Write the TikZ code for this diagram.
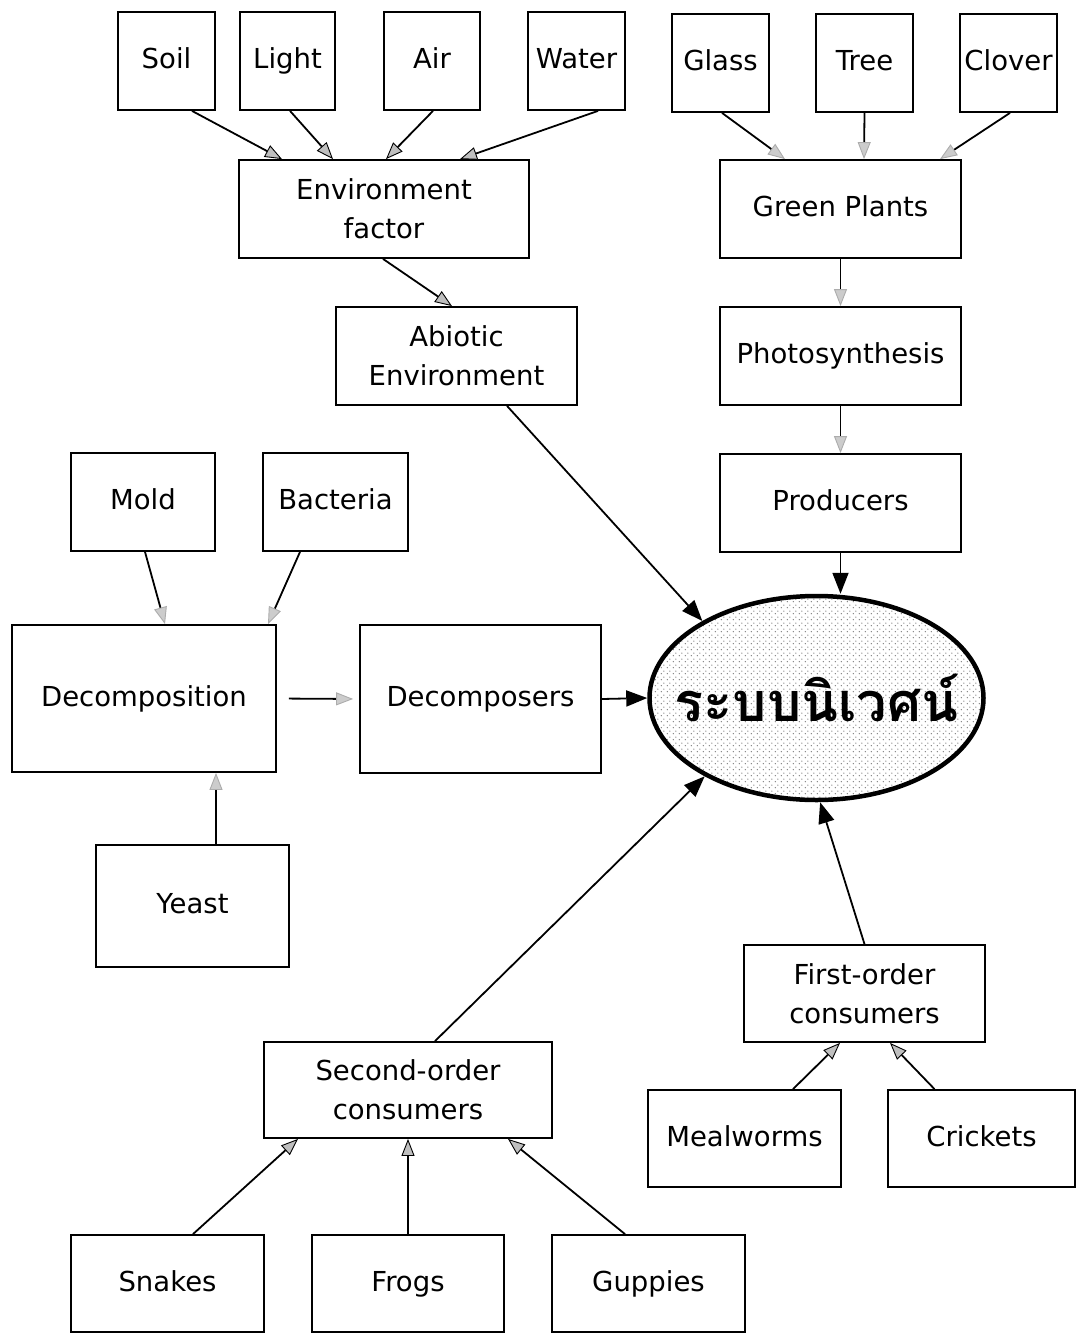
\documentclass[tikz,border=0pt]{standalone}
\usepackage{fontspec}
\setmainfont{DejaVu Sans}
\newfontfamily\thaifont[Script=Thai]{Loma}
\usetikzlibrary{arrows.meta,patterns,patterns.meta,calc,shapes.geometric}
\tikzdeclarepattern{
  name=ecodots,
  type=uncolored,
  bottom left={(0pt,0pt)},
  top right={(6pt,6pt)},
  tile size={(6pt,6pt)},
  code={\fill (1.5pt,1.5pt) circle (0.85pt); \fill (4.5pt,4.5pt) circle (0.85pt);}
}
\begin{document}
\begin{tikzpicture}[x=1pt,y=-1pt,
  box/.style={draw, line width=1.8pt, inner sep=0pt, align=center, font=\fontsize{27.5}{39}\selectfont},
  one/.style={box, text height=21pt, text depth=6pt},
  conn/.style={line width=1.8pt},
  hatchtip/.style={conn, -{Triangle[length=17pt,width=13pt,fill=gray!50,color=black,line width=0.9pt]}},
  dottip/.style={conn, -{Triangle[length=17pt,width=13pt,fill=gray!40,color=gray!65,line width=0.9pt]}},
  maintip/.style={conn, -{Triangle[length=21pt,width=16pt,fill=black]}}
]
\useasboundingbox (0,0) rectangle (1076,1341);
% top row
\node[one, minimum width=97pt, minimum height=98pt] (soil) at (166.5,61) {Soil};
\node[one, minimum width=95pt, minimum height=98pt] (light) at (287.5,61) {Light};
\node[one, minimum width=96pt, minimum height=98pt] (air) at (432,61) {Air};
\node[one, minimum width=97pt, minimum height=98pt] (water) at (576.5,61) {Water};
\node[one, minimum width=97pt, minimum height=98pt] (glass) at (720.5,63) {Glass};
\node[one, minimum width=97pt, minimum height=98pt] (tree) at (864.5,63) {Tree};
\node[one, minimum width=97pt, minimum height=98pt] (clover) at (1008.5,63) {Clover};
% second rows
\node[box, minimum width=290pt, minimum height=98pt] (envf) at (384,209) {Environment\\factor};
\node[one, minimum width=241pt, minimum height=98pt] (green) at (840.5,209) {Green Plants};
\node[box, minimum width=241pt, minimum height=98pt] (abiotic) at (456.5,356) {Abiotic\\Environment};
\node[one, minimum width=241pt, minimum height=98pt] (photo) at (840.5,356) {Photosynthesis};
\node[one, minimum width=241pt, minimum height=98pt] (prod) at (840.5,503) {Producers};
\node[one, minimum width=144pt, minimum height=98pt] (mold) at (143,502) {Mold};
\node[one, minimum width=145pt, minimum height=98pt] (bact) at (335.5,502) {Bacteria};
\node[one, minimum width=264pt, minimum height=147pt] (decomp) at (144,698.5) {Decomposition};
\node[one, minimum width=241pt, minimum height=148pt] (decs) at (480.5,699) {Decomposers};
\node[one, minimum width=193pt, minimum height=122pt] (yeast) at (192.5,906) {Yeast};
% ecosystem
\node[draw, line width=4.5pt, ellipse, minimum width=334pt, minimum height=204pt, inner sep=0pt,
      preaction={fill=white}, pattern=ecodots, pattern color=gray] (eco) at (816.5,698) {};
\node (ecotext) at (eco) {\thaifont\bfseries\fontsize{54}{58}\selectfont ระบบนิเวศน์};
% consumers
\node[box, minimum width=241pt, minimum height=97pt] (first) at (864.5,993.5) {First-order\\consumers};
\node[box, minimum width=288pt, minimum height=96pt] (second) at (408,1090) {Second-order\\consumers};
\node[one, minimum width=193pt, minimum height=97pt] (meal) at (744.5,1138.5) {Mealworms};
\node[one, minimum width=187pt, minimum height=97pt] (crick) at (981.5,1138.5) {Crickets};
\node[one, minimum width=193pt, minimum height=97pt] (snakes) at (167.5,1283.5) {Snakes};
\node[one, minimum width=192pt, minimum height=97pt] (frogs) at (408,1283.5) {Frogs};
\node[one, minimum width=193pt, minimum height=97pt] (gupp) at (648.5,1283.5) {Guppies};
% connectors: abiotic branch
\draw[hatchtip] ([xshift=25.5pt]soil.south) -- ([xshift=-102pt]envf.north);
\draw[hatchtip] ([xshift=2.5pt]light.south) -- ([xshift=-51pt]envf.north);
\draw[hatchtip] ([xshift=1pt]air.south) -- ([xshift=2pt]envf.north);
\draw[hatchtip] ([xshift=21.5pt]water.south) -- ([xshift=76pt]envf.north);
\draw[hatchtip] ([xshift=-1pt]envf.south) -- ([xshift=-4.5pt]abiotic.north);
% plants branch
\draw[dottip] ([xshift=1.5pt]glass.south) -- ([xshift=-55.5pt]green.north);
\draw[dottip] (tree.south) -- ([xshift=23.5pt]green.north);
\draw[dottip] ([xshift=1.5pt]clover.south) -- ([xshift=99.5pt]green.north);
\draw[dottip] (green.south) -- (photo.north);
\draw[dottip] (photo.south) -- (prod.north);
% decomposition branch
\draw[dottip] ([xshift=2pt]mold.south) -- ([xshift=21pt]decomp.north);
\draw[dottip] ([xshift=-35.5pt]bact.south) -- ([xshift=124pt]decomp.north);
\draw[dottip] ([xshift=23.5pt]yeast.north) -- ([xshift=72pt]decomp.south);
\draw[dottip, shorten <=12pt, shorten >=6pt] (decomp.east) -- (decs.west);
% into ecosystem
\draw[maintip] ([xshift=50.5pt]abiotic.south) -- (eco.146);
\draw[maintip] (prod.south) -- (prod.south |- eco.north);
\draw[maintip] (decs.east) -- (eco.west);
\draw[maintip] ([xshift=27pt]second.north) -- (eco.215);
\draw[maintip] (first.north) -- (eco.272);
% consumers
\draw[hatchtip] ([xshift=48.5pt]meal.north) -- ([xshift=-24.5pt]first.south);
\draw[hatchtip] ([xshift=-47pt]crick.north) -- ([xshift=25.5pt]first.south);
\draw[hatchtip] ([xshift=25.5pt]snakes.north) -- ([xshift=-110pt]second.south);
\draw[hatchtip] (frogs.north) -- (second.south);
\draw[hatchtip] ([xshift=-23.5pt]gupp.north) -- ([xshift=100pt]second.south);
\end{tikzpicture}
\end{document}
